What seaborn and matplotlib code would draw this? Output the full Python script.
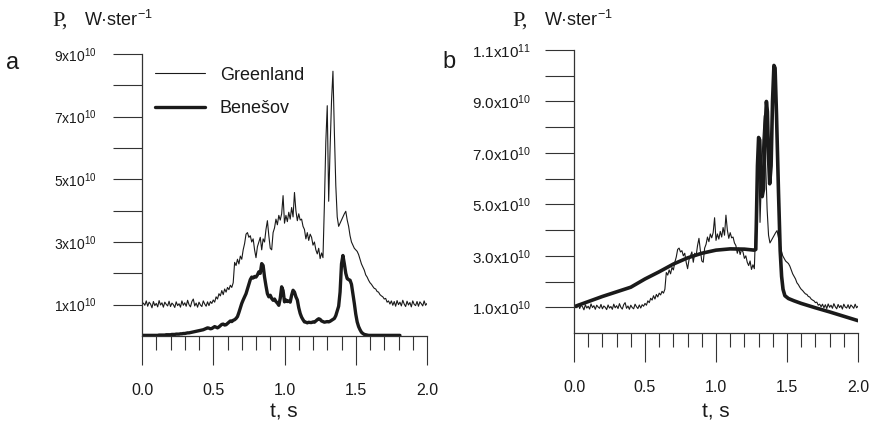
import numpy as np
import pandas as pd
import matplotlib
matplotlib.use("Agg")
import matplotlib.pyplot as plt
import seaborn as sns
from matplotlib.ticker import MultipleLocator

# ---------------- data (power in units of 1e10 W/ster) ----------------
t_step = 0.01
greenland = [
    1.00, 1.05, 0.98, 1.12, 0.95, 1.08, 1.02, 0.90, 1.10, 0.97,
    1.04, 0.93, 1.13, 0.99, 1.06, 0.92, 1.08, 1.01, 0.96, 1.11,
    0.94, 1.05, 1.00, 0.91, 1.09, 0.97, 1.03, 0.92, 1.12, 0.98,
    1.06, 0.95, 1.14, 1.00, 0.93, 1.10, 1.18, 0.96, 1.05, 0.92,
    1.08, 0.99, 0.94, 1.12, 1.02, 0.95, 1.09, 0.97, 1.10, 1.04,
    1.15, 1.08, 1.25, 1.18, 1.35, 1.28, 1.45, 1.32, 1.50, 1.40,
    1.55, 1.48, 1.62, 1.55, 1.70, 2.35, 2.25, 2.45, 2.30, 2.55,
    2.45, 2.75, 2.95, 3.25, 3.30, 3.15, 3.20, 3.00, 3.10, 2.75,
    2.50, 2.85, 3.00, 3.15, 2.75, 3.10, 3.00, 3.40, 3.68, 3.20,
    2.80, 2.75, 3.30, 3.45, 3.73, 3.55, 3.85, 3.70, 3.90, 4.48,
    3.60, 3.85, 3.65, 3.95, 3.73, 4.10, 3.80, 4.58, 4.00, 3.68,
    3.90, 3.70, 3.73, 3.50, 3.40, 3.10, 3.30, 3.05, 3.25, 3.15,
    2.90, 3.00, 2.75, 2.62, 2.80, 2.47, 2.65, 2.50, 4.20, 6.20,
    7.35, 4.30, 6.00, 7.50, 8.45, 6.50, 4.80, 3.80, 3.50, 3.60,
    3.70, 3.80, 3.90, 3.98, 3.70, 3.50, 3.20, 3.00, 2.90, 2.80,
    2.75, 2.70, 2.60, 2.45, 2.30, 2.20, 2.10, 1.95, 1.88, 1.78,
    1.70, 1.65, 1.58, 1.52, 1.50, 1.42, 1.40, 1.32, 1.28, 1.25,
    1.18, 1.20, 1.08, 1.12, 1.02, 1.12, 0.98, 1.10, 0.95, 1.13,
    1.00, 1.08, 0.96, 1.14, 1.02, 0.94, 1.11, 0.99, 1.07, 0.93,
    1.12, 1.01, 0.97, 1.10, 0.95, 1.09, 1.03, 0.96, 1.12, 0.98, 1.04,
]
benesov = [
    0.02, 0.02, 0.02, 0.02, 0.02, 0.02, 0.02, 0.02, 0.02, 0.02,
    0.02, 0.02, 0.03, 0.03, 0.03, 0.03, 0.03, 0.04, 0.04, 0.04,
    0.04, 0.05, 0.05, 0.05, 0.06, 0.06, 0.06, 0.07, 0.07, 0.08,
    0.08, 0.09, 0.10, 0.10, 0.11, 0.12, 0.13, 0.14, 0.15, 0.16,
    0.17, 0.18, 0.19, 0.20, 0.22, 0.24, 0.26, 0.25, 0.23, 0.24,
    0.27, 0.30, 0.28, 0.26, 0.29, 0.33, 0.37, 0.38, 0.35, 0.36,
    0.40, 0.44, 0.48, 0.46, 0.50, 0.52, 0.56, 0.62, 0.75, 0.90,
    1.04, 1.15, 1.25, 1.35, 1.50, 1.65, 1.80, 1.88, 1.85, 1.90,
    1.88, 1.95, 2.05, 2.00, 2.31, 2.25, 1.88, 1.60, 1.35, 1.25,
    1.30, 1.20, 1.14, 1.18, 1.10, 1.05, 0.98, 1.20, 1.57, 1.45,
    1.09, 1.15, 1.10, 1.12, 1.08, 1.30, 1.46, 1.40, 1.25, 1.15,
    0.90, 0.72, 0.60, 0.52, 0.45, 0.44, 0.42, 0.44, 0.43, 0.43,
    0.45, 0.44, 0.48, 0.52, 0.55, 0.53, 0.48, 0.46, 0.44, 0.45,
    0.46, 0.45, 0.47, 0.50, 0.53, 0.56, 0.65, 0.80, 0.95, 1.40,
    2.30, 2.57, 2.30, 2.00, 1.83, 1.80, 1.78, 1.65, 1.35, 1.04,
    0.70, 0.45, 0.30, 0.20, 0.12, 0.08, 0.05, 0.04, 0.03, 0.02,
    0.02, 0.02, 0.02, 0.02, 0.02, 0.02, 0.02, 0.02, 0.02, 0.02,
    0.02, 0.02, 0.02, 0.02, 0.02, 0.02, 0.02, 0.02, 0.02, 0.02,
    0.02, 0.02,
]
t_model = [0.0, 0.1, 0.2, 0.3, 0.4, 0.5, 0.6, 0.7, 0.8, 0.9, 1.0, 1.1, 1.2,
           1.27, 1.28, 1.285, 1.292, 1.300, 1.308, 1.316, 1.325, 1.335,
           1.345, 1.355, 1.362, 1.370, 1.378, 1.388, 1.398, 1.408, 1.416,
           1.426, 1.44, 1.452, 1.462, 1.472, 1.485, 1.51, 1.55, 1.6, 1.7,
           1.8, 1.9, 2.0]
p_model = [1.02, 1.22, 1.42, 1.60, 1.78, 2.10, 2.38, 2.68, 2.92, 3.10, 3.22,
           3.27, 3.26, 3.22, 3.25, 4.50, 6.50, 7.60, 7.50, 6.00, 5.30, 5.60,
           7.80, 9.00, 8.60, 6.80, 5.80, 6.50, 9.00, 10.40, 10.30, 8.50,
           5.50, 3.20, 2.20, 1.70, 1.45, 1.34, 1.25, 1.15, 0.98, 0.82,
           0.65, 0.48]

ylabels_a = ["1x10$^{10}$", "", "3x10$^{10}$", "", "5x10$^{10}$", "",
             "7x10$^{10}$", "", "9x10$^{10}$"]
ylabels_b = ["1.0x10$^{10}$", "", "3.0x10$^{10}$", "", "5.0x10$^{10}$", "",
             "7.0x10$^{10}$", "", "9.0x10$^{10}$", "", "1.1x10$^{11}$"]
xticks_major = [0.0, 0.5, 1.0, 1.5, 2.0]
xlabels = ["0.0", "0.5", "1.0", "1.5", "2.0"]

t_g = np.round(np.arange(len(greenland)) * t_step, 2)
t_b = np.round(np.arange(len(benesov)) * t_step, 2)
df_g = pd.DataFrame({"t": t_g, "P": greenland})
df_b = pd.DataFrame({"t": t_b, "P": benesov})
df_m = pd.DataFrame({"t": t_model, "P": p_model})

# ---------------- style ----------------
sns.set_style("white")
plt.rcParams["font.family"] = ["Liberation Sans", "DejaVu Sans"]
plt.rcParams["mathtext.fontset"] = "custom"
plt.rcParams["mathtext.rm"] = "Liberation Sans"
plt.rcParams["mathtext.it"] = "Liberation Sans:italic"
plt.rcParams["mathtext.bf"] = "Liberation Sans:bold"

W, H = 873, 430
fig = plt.figure(figsize=(W / 100, H / 100), dpi=100)
fig.patch.set_facecolor("white")

ink = "#1a1a1a"
axc = "#333333"

def px_axes(l, r, b, t):
    return [l / W, 1 - b / H, (r - l) / W, (b - t) / H]

ax_a = fig.add_axes(px_axes(142, 427, 336, 54))
ax_b = fig.add_axes(px_axes(574, 858, 333, 50))

sns.lineplot(data=df_g, x="t", y="P", ax=ax_a, color=ink, linewidth=0.8,
             estimator=None, sort=False, label="Greenland")
sns.lineplot(data=df_b, x="t", y="P", ax=ax_a, color=ink, linewidth=2.4,
             estimator=None, sort=False, label="Bene\u0161ov")
sns.lineplot(data=df_g, x="t", y="P", ax=ax_b, color=ink, linewidth=0.8,
             estimator=None, sort=False)
sns.lineplot(data=df_m, x="t", y="P", ax=ax_b, color=ink, linewidth=2.6,
             estimator=None, sort=False)

def style_axis(ax, ymax, ylabels, ysize, ypad):
    ax.set_xlim(0, 2.0)
    ax.set_ylim(0, ymax)
    ax.set_xlabel("")
    ax.set_ylabel("")
    for s in ["top", "right"]:
        ax.spines[s].set_visible(False)
    for s in ["left", "bottom"]:
        ax.spines[s].set_color(axc)
        ax.spines[s].set_linewidth(0.9)
    ax.set_yticks(list(range(1, ymax + 1)))
    ax.set_yticklabels(ylabels)
    ax.set_xticks(xticks_major)
    ax.set_xticklabels(xlabels)
    ax.xaxis.set_minor_locator(MultipleLocator(0.1))
    ax.tick_params(axis="y", which="major", direction="out", length=21,
                   width=0.8, color=axc, labelsize=ysize, pad=ypad,
                   labelcolor=ink, left=True)
    ax.tick_params(axis="x", which="major", direction="out", length=21,
                   width=0.8, color=axc, labelsize=11.5, pad=13,
                   labelcolor=ink, bottom=True)
    ax.tick_params(axis="x", which="minor", direction="out", length=10,
                   width=0.8, color=axc, bottom=True)
    ax.set_facecolor("white")

style_axis(ax_a, 9, ylabels_a, 10, 12)
style_axis(ax_b, 11, ylabels_b, 11, 10)

leg = ax_a.legend(loc="upper left", bbox_to_anchor=(0.045, 0.955),
                  frameon=False, fontsize=13, handlelength=2.8,
                  handletextpad=0.8, labelspacing=0.9, borderpad=0,
                  borderaxespad=0)
for txt in leg.get_texts():
    txt.set_color(ink)

# axis titles / panel letters
for x0 in (52, 512):
    fig.text(x0 / W, 1 - 21 / H, "P,", family="Liberation Serif",
             fontsize=16, color=ink, va="center", ha="left")
    fig.text((x0 + 32) / W, 1 - 20 / H, "W\u00b7ster$^{-1}$",
             fontsize=13, color=ink, va="center", ha="left")
fig.text(6 / W, 1 - 63 / H, "a", fontsize=17, color=ink, va="center")
fig.text(442 / W, 1 - 62 / H, "b", fontsize=17, color=ink, va="center")
fig.text(284 / W, 1 - 412 / H, "t, s", fontsize=15, color=ink,
         va="center", ha="center")
fig.text(716 / W, 1 - 412 / H, "t, s", fontsize=15, color=ink,
         va="center", ha="center")

fig.savefig("out.png", dpi=100, facecolor="white")
